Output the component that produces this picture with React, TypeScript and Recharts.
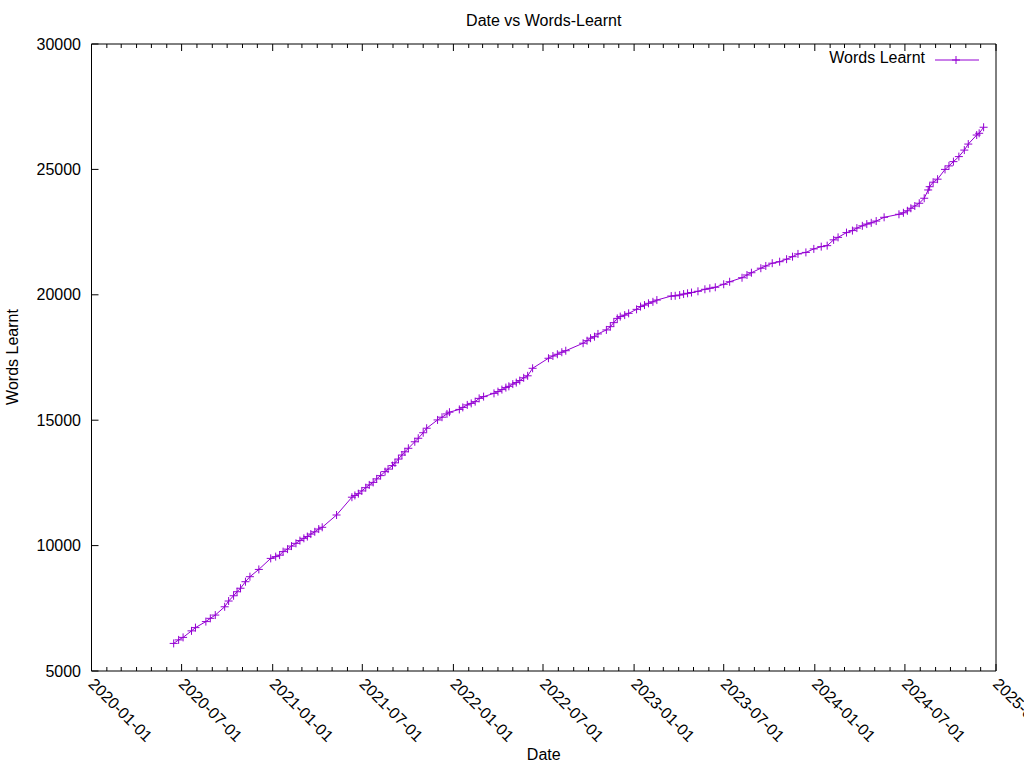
import { Legend, Line, LineChart, XAxis, YAxis } from "recharts";

const FONT = "'Liberation Sans', Arial, Helvetica, sans-serif";
const PURPLE = "#9400d3";

const dates = [
  "2020-06-15", "2020-06-25", "2020-07-04", "2020-07-21", "2020-07-29", "2020-08-19",
  "2020-08-28", "2020-09-07", "2020-09-26", "2020-10-04", "2020-10-14", "2020-10-21",
  "2020-10-28", "2020-11-07", "2020-11-16", "2020-12-04", "2020-12-28", "2021-01-07",
  "2021-01-15", "2021-01-22", "2021-01-31", "2021-02-08", "2021-02-17", "2021-02-25",
  "2021-03-05", "2021-03-12", "2021-03-19", "2021-03-27", "2021-04-04", "2021-04-11",
  "2021-05-10", "2021-06-10", "2021-06-16", "2021-06-23", "2021-06-30", "2021-07-08",
  "2021-07-15", "2021-07-23", "2021-07-30", "2021-08-07", "2021-08-16", "2021-08-22",
  "2021-08-31", "2021-09-05", "2021-09-12", "2021-09-19", "2021-09-25", "2021-10-02",
  "2021-10-15", "2021-10-22", "2021-11-01", "2021-11-08", "2021-11-30", "2021-12-09",
  "2021-12-19", "2021-12-24", "2022-01-13", "2022-01-20", "2022-01-29", "2022-02-06",
  "2022-02-14", "2022-02-22", "2022-03-03", "2022-03-24", "2022-04-01", "2022-04-09",
  "2022-04-17", "2022-04-23", "2022-05-01", "2022-05-08", "2022-05-15", "2022-05-23",
  "2022-05-31", "2022-06-10", "2022-07-12", "2022-07-21", "2022-07-30", "2022-08-08",
  "2022-08-16", "2022-09-20", "2022-09-28", "2022-10-05", "2022-10-13", "2022-10-20",
  "2022-11-06", "2022-11-14", "2022-11-21", "2022-11-28", "2022-12-04", "2022-12-13",
  "2022-12-21", "2023-01-06", "2023-01-14", "2023-01-22", "2023-01-30", "2023-02-08",
  "2023-02-16", "2023-03-17", "2023-03-25", "2023-04-03", "2023-04-11", "2023-04-19",
  "2023-04-27", "2023-05-10", "2023-05-24", "2023-06-03", "2023-06-14", "2023-07-01",
  "2023-07-13", "2023-08-07", "2023-08-17", "2023-08-26", "2023-09-14", "2023-09-24",
  "2023-10-07", "2023-10-22", "2023-11-05", "2023-11-17", "2023-11-28", "2023-12-14",
  "2023-12-30", "2024-01-14", "2024-01-26", "2024-02-08", "2024-02-17", "2024-03-05",
  "2024-03-17", "2024-03-26", "2024-04-06", "2024-04-15", "2024-04-24", "2024-05-04",
  "2024-05-20", "2024-06-19", "2024-06-28", "2024-07-06", "2024-07-13", "2024-07-21",
  "2024-07-30", "2024-08-09", "2024-08-17", "2024-08-20", "2024-08-27", "2024-09-05",
  "2024-09-20", "2024-09-28", "2024-10-07", "2024-10-18", "2024-10-29", "2024-11-06",
  "2024-11-23", "2024-11-28", "2024-12-07",
];

const wordsLearnt = [
  6100, 6240, 6340, 6600, 6730, 6970,
  7100, 7230, 7560, 7790, 8000, 8160,
  8300, 8560, 8760, 9050, 9490, 9560,
  9620, 9760, 9860, 9980, 10090, 10200,
  10290, 10360, 10460, 10550, 10660, 10730,
  11220, 11930, 12000, 12070, 12180, 12310,
  12420, 12520, 12660, 12790, 12950, 13050,
  13190, 13300, 13450, 13610, 13740, 13880,
  14140, 14280, 14500, 14680, 15010, 15120,
  15250, 15320, 15430, 15510, 15610, 15670,
  15740, 15870, 15940, 16070, 16140, 16220,
  16300, 16350, 16440, 16500, 16580, 16690,
  16770, 17070, 17470, 17560, 17630, 17710,
  17770, 18070, 18170, 18270, 18330, 18440,
  18600, 18730, 18890, 19060, 19130, 19190,
  19260, 19420, 19530, 19590, 19660, 19720,
  19790, 19950, 19960, 19990, 20030, 20060,
  20090, 20140, 20220, 20260, 20300, 20420,
  20520, 20680, 20790, 20880, 21060, 21150,
  21260, 21320, 21420, 21520, 21630, 21690,
  21830, 21920, 21960, 22190, 22290, 22480,
  22560, 22660, 22750, 22820, 22870, 22940,
  23090, 23210, 23270, 23350, 23450, 23540,
  23650, 23850, 24180, 24310, 24490, 24610,
  25000, 25140, 25310, 25510, 25770, 26010,
  26370, 26440, 26680,
];

const xTickLabels = [
  "2020-01-01", "2020-07-01", "2021-01-01", "2021-07-01", "2022-01-01",
  "2022-07-01", "2023-01-01", "2023-07-01", "2024-01-01", "2024-07-01", "2025-01-01",
];
const yTicks = [5000, 10000, 15000, 20000, 25000, 30000];

const toTime = (iso: string) => Date.parse(`${iso}T00:00:00Z`);

const data = dates.map((d, i) => ({ t: toTime(d), words: wordsLearnt[i] }));
const xDomain = [toTime("2020-01-01"), toTime("2025-01-01")];

// monthly minor tics, the labelled ones fall on Jan / Jul
const monthTicks: number[] = [];
for (let y = 2020; y <= 2024; y++) {
  for (let m = 0; m < 12; m++) monthTicks.push(Date.UTC(y, m, 1));
}
monthTicks.push(Date.UTC(2025, 0, 1));
const majorSet = new Set(xTickLabels.map(toTime));

const fmt = (t: number) => new Date(t).toISOString().slice(0, 10);

function Plus({ cx, cy, size = 4 }: { cx?: number; cy?: number; size?: number }) {
  if (cx == null || cy == null) return null;
  return (
    <path
      d={`M${cx - size},${cy}H${cx + size}M${cx},${cy - size}V${cy + size}`}
      stroke={PURPLE}
      strokeWidth={1}
      fill="none"
    />
  );
}

function BottomTick({ x, y, payload }: any) {
  const major = majorSet.has(payload.value);
  return (
    <g>
      <line x1={x} x2={x} y1={y} y2={y - (major ? 7 : 4)} stroke="#000" />
      {major && (
        <text
          x={x}
          y={y + 10}
          transform={`rotate(45 ${x} ${y + 10})`}
          textAnchor="start"
          dominantBaseline="central"
          fill="#000"
          fontSize={16}
          fontFamily={FONT}
        >
          {fmt(payload.value)}
        </text>
      )}
    </g>
  );
}

function TopTick({ x, y, payload }: any) {
  const major = majorSet.has(payload.value);
  return <line x1={x} x2={x} y1={y} y2={y + (major ? 7 : 4)} stroke="#000" />;
}

function LeftTick({ x, y, payload }: any) {
  return (
    <g>
      <line x1={x} x2={x + 7} y1={y} y2={y} stroke="#000" />
      <text
        x={x - 10.5}
        y={y}
        textAnchor="end"
        dominantBaseline="central"
        fill="#000"
        fontSize={16}
        fontFamily={FONT}
      >
        {payload.value}
      </text>
    </g>
  );
}

function RightTick({ x, y }: any) {
  return <line x1={x} x2={x - 7} y1={y} y2={y} stroke="#000" />;
}

function KeyBox() {
  return (
    <div style={{ position: "absolute", left: 0, top: 0, width: 1024, height: 0 }}>
      <span
        style={{
          position: "absolute",
          right: 1024 - 925,
          top: 48,
          lineHeight: "20px",
          fontSize: 16,
          fontFamily: FONT,
          color: "#000",
          whiteSpace: "nowrap",
        }}
      >
        Words Learnt
      </span>
      <svg
        width={50}
        height={12}
        style={{ position: "absolute", left: 932, top: 54, overflow: "visible" }}
      >
        <line x1={3} x2={47} y1={6} y2={6} stroke={PURPLE} strokeWidth={1} />
        <Plus cx={24} cy={6} />
      </svg>
    </div>
  );
}

export default function App() {
  return (
    <div style={{ position: "absolute", left: 0, top: 0, width: 1024, height: 768, background: "#fff" }}>
      <div
        style={{
          position: "absolute",
          left: 91.5,
          width: 904.5,
          top: 11,
          lineHeight: "20px",
          textAlign: "center",
          fontSize: 16,
          fontFamily: FONT,
          color: "#000",
        }}
      >
        Date vs Words-Learnt
      </div>
      <LineChart
        width={1024}
        height={768}
        data={data}
        margin={{ top: 43, right: 27, bottom: 0, left: 0 }}
      >
        <XAxis
          xAxisId="top"
          orientation="top"
          dataKey="t"
          type="number"
          domain={xDomain}
          ticks={monthTicks}
          interval={0}
          height={1}
          tickSize={0}
          tickMargin={0}
          tickLine={false}
          axisLine={{ stroke: "#000" }}
          tick={<TopTick />}
        />
        <XAxis
          xAxisId="bottom"
          dataKey="t"
          type="number"
          domain={xDomain}
          ticks={monthTicks}
          interval={0}
          height={97}
          tickSize={0}
          tickMargin={0}
          tickLine={false}
          axisLine={{ stroke: "#000" }}
          tick={<BottomTick />}
          label={{ value: "Date", position: "insideBottom", offset: 8, fill: "#000", fontSize: 16, fontFamily: FONT }}
        />
        <YAxis
          yAxisId="left"
          domain={[5000, 30000]}
          ticks={yTicks}
          interval={0}
          width={91.5}
          tickSize={0}
          tickMargin={0}
          tickLine={false}
          axisLine={{ stroke: "#000" }}
          tick={<LeftTick />}
          label={() => (
            <text
              x={12.5}
              y={357}
              transform="rotate(-90 12.5 357)"
              textAnchor="middle"
              dominantBaseline="central"
              fill="#000"
              fontSize={16}
              fontFamily={FONT}
            >
              Words Learnt
            </text>
          )}
        />
        <YAxis
          yAxisId="right"
          orientation="right"
          domain={[5000, 30000]}
          ticks={yTicks}
          interval={0}
          width={1}
          tickSize={0}
          tickMargin={0}
          tickLine={false}
          axisLine={{ stroke: "#000" }}
          tick={<RightTick />}
        />
        <Legend
          layout="horizontal"
          verticalAlign="middle"
          align="center"
          wrapperStyle={{ left: 0, top: 0, width: 1024, height: 0 }}
          content={() => <KeyBox />}
        />
        <Line
          xAxisId="bottom"
          yAxisId="left"
          type="linear"
          dataKey="words"
          name="Words Learnt"
          stroke={PURPLE}
          strokeWidth={1}
          dot={(p: any) => <Plus key={`d${p.index}`} cx={p.cx} cy={p.cy} />}
          activeDot={false}
          isAnimationActive={false}
        />
      </LineChart>
    </div>
  );
}
